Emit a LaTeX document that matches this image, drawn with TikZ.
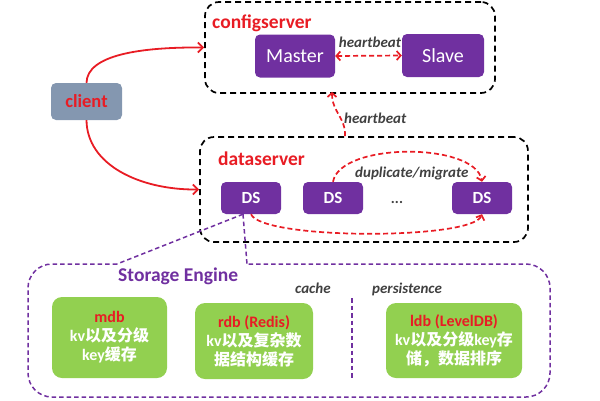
\documentclass[tikz,border=0pt]{standalone}
\usepackage{fontspec}
\setmainfont{Carlito}
\newfontfamily\cjk{Noto Sans CJK SC}
\usetikzlibrary{arrows.meta}
\definecolor{cred}{RGB}{232,28,36}
\definecolor{cpurple}{RGB}{112,48,160}
\definecolor{cgreen}{RGB}{146,208,80}
\definecolor{cclient}{RGB}{132,151,176}
\definecolor{cgray}{RGB}{64,64,64}
\tikzset{
  group/.style={draw=black, line width=1.7pt, dash pattern=on 6pt off 4pt, rounded corners=14pt, inner sep=0pt},
  grouplabel/.style={text=cred, font=\bfseries\fontsize{19.5}{22}\selectfont, inner sep=0pt},
  pbox/.style={fill=cpurple, rounded corners=5pt, text=white, inner sep=0pt},
  gbox/.style={fill=cgreen, rounded corners=10pt, text=white, inner sep=0pt, align=center,
     font=\bfseries\fontsize{16}{19}\selectfont},
  note/.style={text=cgray, font=\bfseries\itshape\fontsize{15}{18}\selectfont, inner sep=0pt},
  redarrow/.style={draw=cred, line width=1.8pt, -{Straight Barb[length=5pt,width=10pt]}},
  reddash/.style={draw=cred, line width=1.7pt, dash pattern=on 5pt off 3pt, -{Straight Barb[length=4pt,width=9pt]}},
  purpdash/.style={draw=cpurple, line width=1.5pt, dash pattern=on 4.5pt off 3pt},
}
\begin{document}
\begin{tikzpicture}[x=1pt,y=-1pt]
\useasboundingbox (0,0) rectangle (600,400);

% configserver
\node[group, minimum width=290pt, minimum height=91pt] (cfg) at (350,47.5) {};
\node[grouplabel, anchor=base west] (cfglabel) at (212,28) {configserver};
\node[pbox, minimum width=80pt, minimum height=43pt, font=\fontsize{20}{24}\selectfont] (master) at (295,56) {Master};
\node[pbox, minimum width=82pt, minimum height=43pt, font=\fontsize{20}{24}\selectfont] (slave) at (443,55.5) {Slave};
\draw[reddash, {Straight Barb[length=4pt,width=9pt]}-{Straight Barb[length=4pt,width=9pt]}] (master.east) -- (slave.west);
\node[note, anchor=base] (hb1) at (370,47) {heartbeat};

% client
\node[fill=cclient, rounded corners=5pt, minimum width=71pt, minimum height=37pt, inner sep=0pt,
      text=cred, font=\bfseries\fontsize{18.5}{22}\selectfont] (client) at (86.5,101.5) {client};

% dataserver
\node[group, minimum width=328pt, minimum height=105pt] (dsbox) at (364,189.5) {};
\node[grouplabel, anchor=base west] (dslabel) at (218,165) {dataserver};
\node[pbox, minimum width=60pt, minimum height=32pt, font=\bfseries\fontsize{17}{20}\selectfont] (ds1) at (251,198) {DS};
\node[pbox, minimum width=60pt, minimum height=32pt, font=\bfseries\fontsize{17}{20}\selectfont] (ds2) at (333,198) {DS};
\node[pbox, minimum width=60pt, minimum height=32pt, font=\bfseries\fontsize{17}{20}\selectfont] (ds3) at (482,198) {DS};
\node[text=cgray, font=\bfseries\fontsize{15}{18}\selectfont, inner sep=0pt] (dots) at (397,202) {...};

% client arrows
\draw[redarrow] (client.north) .. controls (87,55) and (140,47) .. (cfg.west);
\draw[redarrow] (client.south) .. controls (87,165) and (140,190) .. (dsbox.west);

% heartbeat ds -> cfg
\coordinate (hbs) at ([xshift=-19pt]dsbox.north);
\coordinate (hbt) at ([xshift=-18pt]cfg.south);
\draw[reddash] (hbs) .. controls (346,118) and (332,112) .. ([yshift=2pt]hbt);
\node[note, anchor=base west] (hb2) at (344,123) {heartbeat};

% duplicate / migrate
\draw[reddash] (ds2.north) .. controls (340,142) and (475,142) .. (ds3.north);
\node[note, anchor=base west] (dup) at (355,177) {duplicate/migrate};
\draw[reddash] (ds1.south) .. controls (262,240) and (472,240) .. (ds3.south);

% storage engine outline
\coordinate (tip) at ([xshift=-8pt]ds1.south);
\coordinate (seL) at (117,264);
\coordinate (seR) at (247,264);
\draw[purpdash, rounded corners=24pt] (seL) -- (28,264) -- (28,397) -- (550,397) -- (550,264) -- (seR);
\draw[purpdash] (tip) -- (seL);
\draw[purpdash] (tip) -- (seR);
\node[text=cpurple, font=\bfseries\fontsize{19.5}{22}\selectfont, inner sep=0pt, anchor=base west] (se) at (118,281) {Storage Engine};
\node[note, anchor=base west] (cache) at (295,293) {cache};
\node[note, anchor=base west] (persist) at (372,293) {persistence};
\draw[purpdash] (352,298) -- (352,378);

% engines
\node[gbox, minimum width=115pt, minimum height=81pt] (mdb) at (109.5,337.5)
  {\textcolor{cred}{mdb}\\kv{\cjk\bfseries 以及分级}\\key{\cjk\bfseries 缓存}};
\node[gbox, minimum width=118pt, minimum height=76pt] (rdb) at (254,341)
  {\textcolor{cred}{rdb (Redis)}\\kv{\cjk\bfseries 以及复杂数}\\{\cjk\bfseries 据结构缓存}};
\node[gbox, minimum width=136pt, minimum height=75pt] (ldb) at (454,340.5)
  {\textcolor{cred}{ldb (LevelDB)}\\kv{\cjk\bfseries 以及分级}key{\cjk\bfseries 存}\\{\cjk\bfseries 储，数据排序}};
\end{tikzpicture}
\end{document}
